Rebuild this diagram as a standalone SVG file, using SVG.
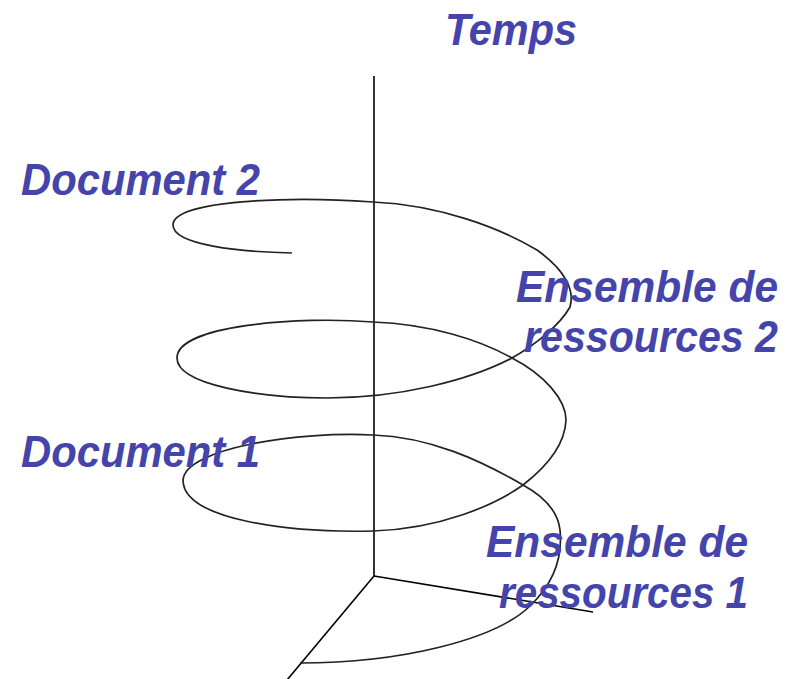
<svg xmlns="http://www.w3.org/2000/svg" width="793" height="679" viewBox="0 0 793 679">
  <style>
    .lbl { font-family: "Liberation Sans", Arial, sans-serif; font-size: 44px; font-weight: bold; font-style: italic; fill: #4444AA; }
    .axis { stroke: #000; stroke-width: 1.6; fill: none; }
    .helix { stroke: #222; stroke-width: 1.7; fill: none; stroke-linejoin: round; }
  </style>
  <rect width="793" height="679" fill="#fff"/>

  <!-- axes: time (vertical) and the two base directions -->
  <g id="axes">
    <line class="axis" x1="374" y1="76" x2="374" y2="576"/>
    <line class="axis" x1="374" y1="576" x2="593" y2="612"/>
    <line class="axis" x1="374" y1="576" x2="287" y2="680"/>
  </g>

  <!-- helix climbing along the time axis -->
  <g id="connectors">
    <path class="helix" d="M300,663
      C400,663 495,640 530,606
      C553,584 563,560 560,530
      C558,512 545,497 523,485
      C480,460 430,437 373,435
      C300,431 185,448 183,480
      C183,520 290,533 373,531
      C440,529 495,505 523,485
      C545,468 565,445 566,420
      C566,400 545,375 512,358
      C480,340 430,324 373,322
      C300,316 177,325 177,358
      C177,385 260,398 327,398
      C400,398 470,380 512,358
      C535,345 560,325 570,307
      C575,290 565,270 537,250
      C500,228 440,205 373,202
      C290,196 173,200 173,225
      C173,245 240,252 292,253"/>
  </g>

  <g id="temps">
    <text class="lbl" x="445" y="45" textLength="132" lengthAdjust="spacingAndGlyphs">Temps</text>
  </g>
  <g id="document2">
    <text class="lbl" x="21" y="195" textLength="239" lengthAdjust="spacingAndGlyphs">Document 2</text>
  </g>
  <g id="ressources2">
    <text class="lbl" x="516" y="302" textLength="262" lengthAdjust="spacingAndGlyphs">Ensemble de</text>
    <text class="lbl" x="524" y="352" textLength="254" lengthAdjust="spacingAndGlyphs">ressources 2</text>
  </g>
  <g id="document1">
    <text class="lbl" x="21" y="467" textLength="239" lengthAdjust="spacingAndGlyphs">Document 1</text>
  </g>
  <g id="ressources1">
    <text class="lbl" x="486" y="557" textLength="262" lengthAdjust="spacingAndGlyphs">Ensemble de</text>
    <text class="lbl" x="499" y="608" textLength="249" lengthAdjust="spacingAndGlyphs">ressources 1</text>
  </g>
</svg>
